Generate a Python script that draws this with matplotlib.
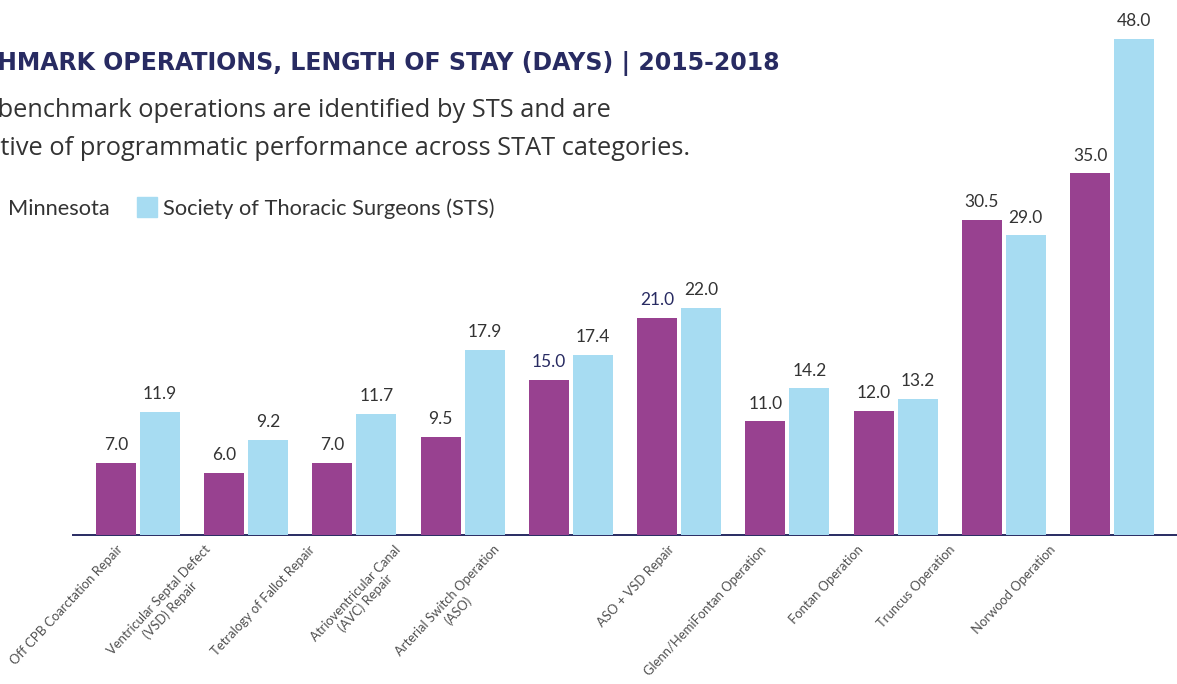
import matplotlib.pyplot as plt
from matplotlib.patches import Rectangle
from matplotlib.transforms import ScaledTranslation
import numpy as np

# Data
operations = [
    "Off CPB Coarctation Repair",
    "Ventricular Septal Defect\n(VSD) Repair",
    "Tetralogy of Fallot Repair",
    "Atrioventricular Canal\n(AVC) Repair",
    "Arterial Switch Operation\n(ASO)",
    "ASO + VSD Repair",
    "Glenn/HemiFontan Operation",
    "Fontan Operation",
    "Truncus Operation",
    "Norwood Operation",
]
minnesota = [7.0, 6.0, 7.0, 9.5, 15.0, 21.0, 11.0, 12.0, 30.5, 35.0]
sts = [11.9, 9.2, 11.7, 17.9, 17.4, 22.0, 14.2, 13.2, 29.0, 48.0]
highlight = [4, 5]  # Minnesota labels shown in navy

# label shifts (px) used by the original layout
label_shift = [-22, -42, -46, -69, -78, -11, -28, -39, -55, -63]

purple = "#984190"
blue = "#a7dcf2"
navy = "#282b62"
text_grey = "#333333"

W, H = 1177, 684
fig = plt.figure(figsize=(W / 100, H / 100), dpi=100)
renderer = fig.canvas.get_renderer()

def text_width(s, **kw):
    t = fig.text(0, 0, s, **kw)
    w = t.get_window_extent(renderer).width
    t.remove()
    return w

ax = fig.add_axes([73 / W, (H - 535) / H, 1 - 73 / W, 50 * 10.33 / H])
x = np.arange(len(operations))
bw = 0.37
off = 0.203
ax.bar(x - off, minnesota, bw, color=purple, zorder=3)
ax.bar(x + off, sts, bw, color=blue, zorder=3)

for i, (m, s) in enumerate(zip(minnesota, sts)):
    mc = navy if i in highlight else text_grey
    ax.text(i - off, m + 0.95, f"{m:.1f}", ha="center", va="bottom",
            fontsize=12.5, color=mc, family="Lato")
    ax.text(i + off, s + 0.95, f"{s:.1f}", ha="center", va="bottom",
            fontsize=12.5, color=text_grey, family="Lato")

ax.set_xlim(-0.6, 9.6)
ax.set_ylim(0, 50)
ax.set_yticks([])
ax.set_xticks(x)
ax.set_xticklabels(operations, rotation=47, ha="right", va="top",
                   rotation_mode="anchor", fontsize=9.4, color="#505050",
                   family="Lato", multialignment="center")
ax.tick_params(axis="x", length=0, pad=6)
for lab, dx in zip(ax.get_xticklabels(), label_shift):
    lab.set_transform(lab.get_transform() + ScaledTranslation(dx / 100, 0, fig.dpi_scale_trans))
for side in ["top", "right", "left"]:
    ax.spines[side].set_visible(False)
ax.spines["bottom"].set_color(navy)
ax.spines["bottom"].set_linewidth(1.4)

# Title (page is cropped on the left, "BENC" falls off the edge)
title_kw = dict(fontweight="bold", family="DejaVu Sans")
vis = "HMARK OPERATIONS, LENGTH OF STAY (DAYS) | 2015-2018"
tsize = 20 * 780 / text_width(vis, fontsize=20, **title_kw)
fig.text(780 / W, 1 - 70 / H, "BENC" + vis, ha="right", va="baseline",
         fontsize=tsize, color=navy, **title_kw)

# Subtitle
sub_kw = dict(fontsize=18.3, family="Open Sans", color=text_grey)
x1 = -text_width("These ", **sub_kw) - 2
x2 = -text_width("indica", **sub_kw)
fig.text(x1 / W, 1 - 117 / H,
         "These benchmark operations are identified by STS and are",
         ha="left", va="baseline", **sub_kw)
fig.text(x2 / W, 1 - 155 / H,
         "indicative of programmatic performance across STAT categories.",
         ha="left", va="baseline", **sub_kw)

# Legend
leg_kw = dict(fontsize=15.7, family="Lato", color=text_grey)
fig.patches.append(Rectangle((-26 / W, 1 - 217 / H), 20 / W, 20 / H,
                             transform=fig.transFigure, color=purple))
fig.text(8 / W, 1 - 215 / H, "Minnesota", ha="left", va="baseline", **leg_kw)
fig.patches.append(Rectangle((137 / W, 1 - 217 / H), 20 / W, 20 / H,
                             transform=fig.transFigure, color=blue))
fig.text(163 / W, 1 - 215 / H, "Society of Thoracic Surgeons (STS)", ha="left",
         va="baseline", **leg_kw)

fig.savefig("out.png", dpi=100)
